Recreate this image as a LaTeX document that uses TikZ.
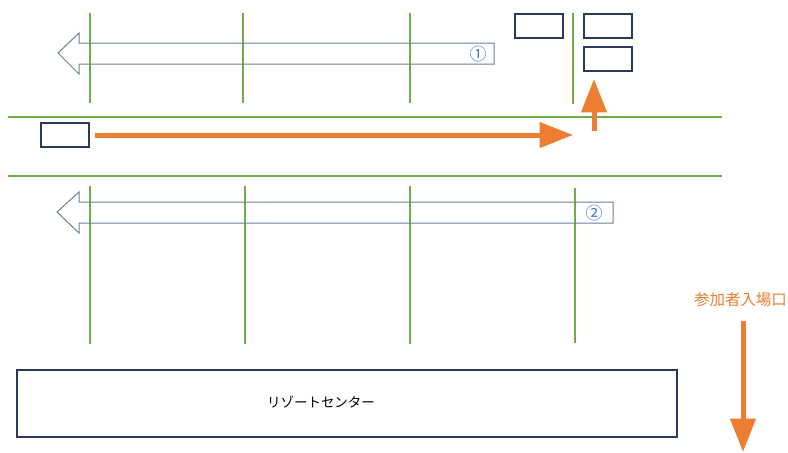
\documentclass[tikz,border=0pt]{standalone}
\usepackage{fontspec}
\newfontfamily\jpfont{Noto Sans CJK JP}
\usepackage{tikz}
\usetikzlibrary{arrows.meta,positioning}

\definecolor{roadgreen}{RGB}{112,173,71}
\definecolor{flowor}{RGB}{237,125,49}
\definecolor{carnavy}{RGB}{43,58,92}
\definecolor{lanegray}{RGB}{110,126,156}
\definecolor{numblue}{RGB}{68,114,196}

\begin{document}
\begin{tikzpicture}[x=0.3mm,y=-0.3mm]
		% Styles
		\tikzset{
			road/.style={draw=roadgreen, line width=0.45mm},
			car/.style={draw=carnavy, line width=0.6mm, minimum width=14.4mm, minimum height=7.2mm, inner sep=0pt},
			lane/.style={draw=lanegray, line width=0.3mm, line join=miter},
			flow/.style={draw=flowor, line width=1.5mm, -{Triangle[length=10mm,width=7.4mm]}},
			num/.style={text=numblue, font=\jpfont\fontsize{14.5}{15}\selectfont, inner sep=0pt}
		}

		\useasboundingbox (0,0) rectangle (788,452);

		% Road edges
		\draw[road] (8,117) -- (722,117);
		\draw[road] (8,176) -- (722,176);

		% Parking lines (upper row)
		\draw[road] (90,13) -- (90,103);
		\draw[road] (243,13) -- (243,103);
		\draw[road] (410,13) -- (410,103);
		\draw[road] (573,13) -- (573,104);

		% Parking lines (lower row)
		\draw[road] (90,186) -- (90,344);
		\draw[road] (245,186) -- (245,344);
		\draw[road] (410,186) -- (410,344);
		\draw[road] (575,188) -- (575,343);

		% Hollow lane arrows
		\draw[lane] (494,43) -- (79,43) -- (79,33) -- (58,53) -- (79,74) -- (79,64) -- (494,64) -- cycle;
		\node[num] (one) at (478,54) {①};
		\draw[lane] (613,202) -- (79,202) -- (79,192) -- (57,212) -- (79,233) -- (79,223) -- (613,223) -- cycle;
		\node[num] (two) at (594,213) {②};

		% Cars
		\node[car] (carL) at (64.5,135) {};
		\node[car] (gateA) at (539,25.5) {};
		\node[car] (gateB) at (608,25.5) {};
		\node[car] (gateC) at (608,58.5) {};

		% Orange flow
		\coordinate (turn) at (573,135);
		\coordinate (upfoot) at (594,131);
		\coordinate (uptip) at (594,79);
		\draw[flow] ([xshift=1.5mm]carL.east) -- (turn);
		\draw[flow] (upfoot) -- (uptip);

		% Entrance
		\node[text=flowor, font=\jpfont\fontsize{13.2}{15}\selectfont, inner sep=0pt] (entrance) at (740.5,300) {参加者入場口};
		\coordinate (entrytop) at (743,321);
		\coordinate (entrytip) at (743,452);
		\draw[flow] (entrytop) -- (entrytip);

		% Resort center
		\draw[draw=carnavy, line width=0.55mm] (17,370) rectangle (677,437);
		\node[font=\jpfont\fontsize{11.5}{13}\selectfont, inner sep=0pt] (resort) at (321,402) {リゾートセンター};

\end{tikzpicture}
\end{document}
